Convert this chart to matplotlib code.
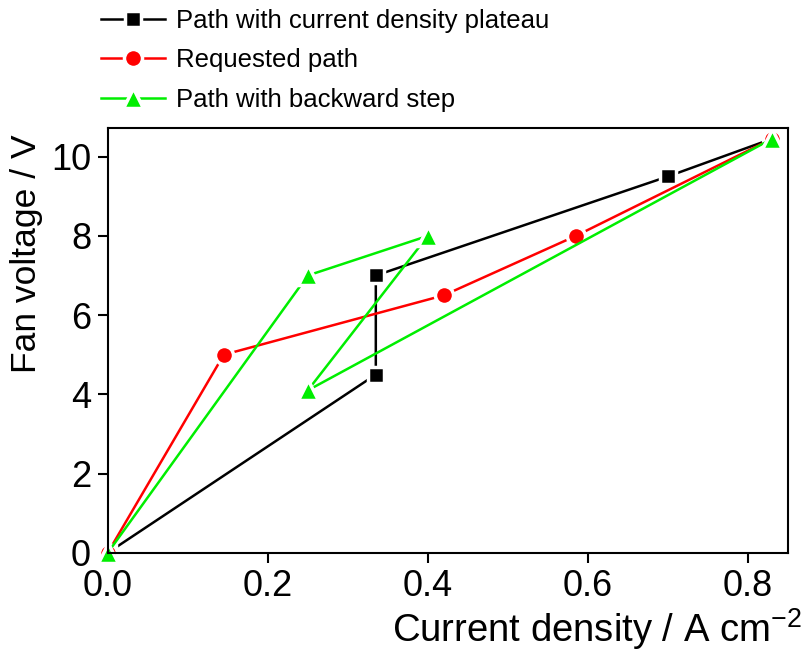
import matplotlib
matplotlib.use('Agg')
import matplotlib.pyplot as plt

plt.rcParams['font.family'] = ['Liberation Sans', 'DejaVu Sans']
plt.rcParams['mathtext.default'] = 'regular'

# === Data === #
plateau_x = [0.0, 0.335, 0.335, 0.70, 0.83]
plateau_y = [0.0, 4.5, 7.0, 9.5, 10.45]

requested_x = [0.0, 0.145, 0.42, 0.585, 0.83]
requested_y = [0.0, 5.0, 6.5, 8.0, 10.45]

backward_x = [0.0, 0.25, 0.40, 0.25, 0.83]
backward_y = [0.0, 7.0, 8.0, 4.1, 10.45]

x_ticks = [0.0, 0.2, 0.4, 0.6, 0.8]
y_ticks = [0, 2, 4, 6, 8, 10]


fig = plt.figure(figsize=(8.04, 6.55), dpi=100)
ax = fig.add_axes([0.134, 0.156, 0.846, 0.649])

style = dict(lw=1.8, markeredgecolor='white', markeredgewidth=2.5, clip_on=False)
ax.plot(plateau_x, plateau_y, color='black', marker='s', ms=12,
        label='Path with current density plateau', **style)
ax.plot(requested_x, requested_y, color='red', marker='o', ms=13,
        label='Requested path', **style)
ax.plot(backward_x, backward_y, color='#00ee00', marker='^', ms=14,
        label='Path with backward step', **style)

ax.set_xlim(0, 0.85)
ax.set_ylim(0, 10.73)
ax.set_xticks(x_ticks)
ax.set_xticklabels(['%.1f' % v for v in x_ticks])
ax.set_yticks(y_ticks)
ax.tick_params(direction='out', length=7, width=1.5, labelsize=26, pad=5)
for s in ax.spines.values():
    s.set_linewidth(1.5)

fig.text(0.033, 0.612, 'Fan voltage / V', rotation=90, ha='center', va='center', fontsize=25.5)
fig.text(0.997, 0.04, 'Current density / A cm$^{-2}$', ha='right', va='center', fontsize=27.5)

leg = fig.legend(loc='upper left', bbox_to_anchor=(0.097, 1.022), frameon=False,
                 fontsize=18.5, handlelength=2.5, handletextpad=0.4, labelspacing=0.6)

fig.savefig('out.png', dpi=100)
